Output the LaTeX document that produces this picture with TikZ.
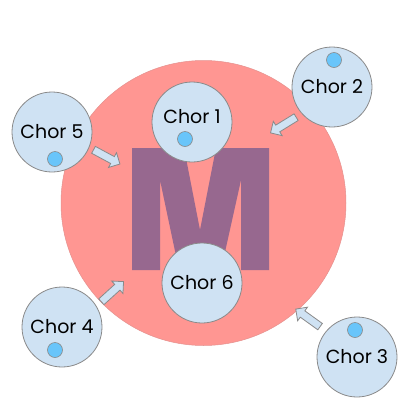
\documentclass[tikz,border=0pt]{standalone}
\usepackage{fontspec}
\setmainfont{Poppins}
\usetikzlibrary{shapes.arrows,calc}
\definecolor{salmon}{HTML}{FF9692}
\definecolor{mpurple}{HTML}{97688F}
\definecolor{lblue}{HTML}{CFE2F3}
\definecolor{dotblue}{HTML}{69C5FA}
\definecolor{edgegray}{HTML}{8A8A8A}
\tikzset{
  chor/.style={circle, draw=edgegray, line width=0.8pt, fill=lblue, minimum size=80pt, inner sep=0pt, font=\fontsize{19}{20}\selectfont},
  chortext/.style={inner sep=0pt, font=\fontsize{19}{20}\selectfont},
  dotc/.style={circle, draw=edgegray, line width=0.6pt, fill=dotblue, minimum size=15pt, inner sep=0pt},
  blockarrow/.style={single arrow, draw=edgegray, line width=0.8pt, fill=lblue, minimum height=30pt, minimum width=16pt, inner sep=3.5pt, single arrow head extend=4.5pt},
}
\begin{document}
\begin{tikzpicture}[x=1pt,y=-1pt]
\useasboundingbox (0,0) rectangle (405,405);
% big circle
\node[circle, fill=salmon, draw=salmon!80!gray, line width=0.5pt, minimum size=285pt, inner sep=0pt] (big) at (203.5,203) {};
% M letter
\fill[mpurple] (132,270) -- (132,148) -- (184,148) -- (200,230) -- (216,148) -- (269,148) -- (269,270) -- (241,270) -- (241,180) -- (221,270) -- (179,270) -- (160,180) -- (160,270) -- cycle;
% arrows
\coordinate (t5) at (92,149);  \coordinate (h5) at (118,163);
\coordinate (t2) at (298,116); \coordinate (h2) at (272,132);
\coordinate (t4) at (100,303); \coordinate (h4) at (122,283);
\coordinate (t3) at (322,328); \coordinate (h3) at (297,310);
\foreach \i in {5,2,4,3}{
  \path let \p1=($(h\i)-(t\i)$), \n1={atan2(\y1,\x1)} in
    node[blockarrow, rotate=\n1] (a\i) at ($(t\i)!0.5!(h\i)$) {};
}
% chor circles
\node[chor] (c1) at (192,122) {};
\node[chortext] (l1) at (192,117) {Chor 1};
\node[dotc] (d1) at (185,139) {};
\node[chor] (c2) at (332,87) {Chor 2};
\node[dotc] (d2) at (334,60) {};
\node[chor] (c5) at (52,132) {Chor 5};
\node[dotc] (d5) at (55,159) {};
\node[chor] (c6) at (202,283) {Chor 6};
\node[chor] (c4) at (62,327) {Chor 4};
\node[dotc] (d4) at (55,350) {};
\node[chor] (c3) at (357,357) {Chor 3};
\node[dotc] (d3) at (355,330) {};
\end{tikzpicture}
\end{document}
